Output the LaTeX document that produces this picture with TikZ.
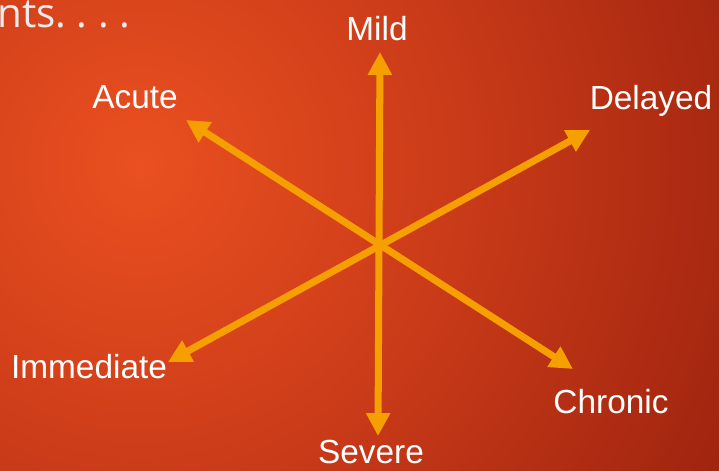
\documentclass[tikz,border=0pt]{standalone}
\usepackage{fontspec}
\setmainfont{Liberation Sans}
\newfontfamily\titlefont{Open Sans}
\usetikzlibrary{arrows.meta}

\definecolor{bgLight}{RGB}{234,80,32}
\definecolor{bgMid}{RGB}{204,60,25}
\definecolor{bgDark}{RGB}{140,25,10}
\definecolor{axisOrange}{RGB}{245,160,0}
\definecolor{titleGrey}{RGB}{235,235,235}
\pgfdeclareradialshading{slideglow}{\pgfpoint{0bp}{0bp}}{color(0bp)=(bgLight); color(10bp)=(bgMid); color(27bp)=(bgDark); color(50bp)=(bgDark)}

\begin{document}
\begin{tikzpicture}[
  x=0.02cm, y=-0.02cm,
  lbl/.style={text=white, font=\fontsize{19}{22}\selectfont, inner sep=0pt, anchor=base},
  ttl/.style={text=titleGrey, font=\titlefont\fontsize{23}{27}\selectfont, inner sep=0pt, anchor=base west},
  axis/.style={{Triangle[length=13pt,width=13pt]}-{Triangle[length=13pt,width=13pt]},
               draw=axisOrange, line width=4pt}
]
\useasboundingbox (0,0) rectangle (719,470);
\fill[bgDark] (0,0) rectangle (719,470);
\begin{scope}
  \clip (0,0) rectangle (719,470);
  \shade[shading=slideglow] (140,165) circle (15cm);
\end{scope}

\node[ttl] (title) at (-3,28) {nts.\kern6pt.\kern6pt.\kern6pt.};

\node[lbl] (mild) at (377,40) {Mild};
\node[lbl] (acute) at (135,108) {Acute};
\node[lbl] (delayed) at (651,109) {Delayed};
\node[lbl] (immediate) at (89,378) {Immediate};
\node[lbl] (chronic) at (611,413) {Chronic};
\node[lbl] (severe) at (371,463) {Severe};

\coordinate (mildTip) at (380,52);
\coordinate (severeTip) at (378,436);
\coordinate (acuteTip) at (186,120);
\coordinate (chronicTip) at (573,369);
\coordinate (delayedTip) at (590,130);
\coordinate (immediateTip) at (168,362);

\draw[axis] (mildTip) -- (severeTip);
\draw[axis] (acuteTip) -- (chronicTip);
\draw[axis] (delayedTip) -- (immediateTip);
\end{tikzpicture}
\end{document}
